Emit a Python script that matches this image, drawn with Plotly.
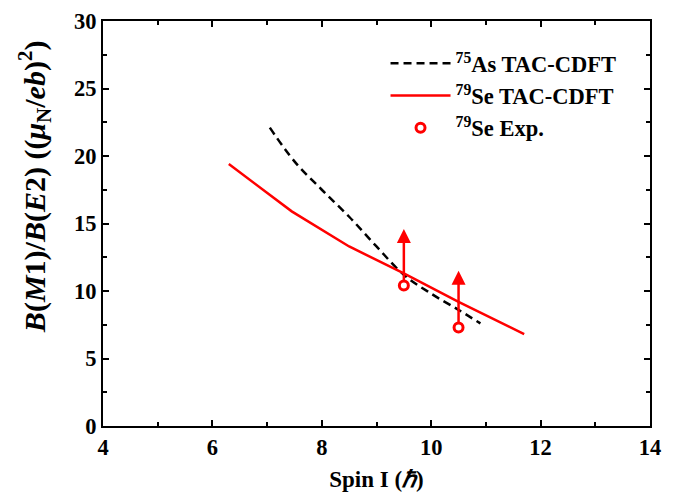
import plotly.graph_objects as go

# Data
as_spin = [7.05, 7.5, 8.0, 8.5, 9.0, 9.5, 10.0, 10.5, 10.9]
as_ratio = [22.1, 19.6, 17.5, 15.5, 13.3, 11.2, 9.8, 8.6, 7.6]

se_spin = [6.3, 7.45, 8.5, 9.5, 10.5, 11.7]
se_ratio = [19.4, 15.9, 13.3, 11.3, 9.2, 6.8]

exp_spin = [9.5, 10.5]
exp_ratio = [10.4, 7.3]
exp_arrow_tip = [14.6, 11.5]

x_ticks = [4, 6, 8, 10, 12, 14]
y_ticks = [0, 5, 10, 15, 20, 25, 30]

RED = "#ff0000"
FONT = "Liberation Serif"

fig = go.Figure()

fig.add_trace(go.Scatter(
    x=as_spin, y=as_ratio, mode="lines",
    line=dict(color="black", width=2.5, dash="8px,5px"),
    name="<sup>75</sup>As TAC-CDFT", line_shape="spline"))

fig.add_trace(go.Scatter(
    x=se_spin, y=se_ratio, mode="lines",
    line=dict(color=RED, width=2.5),
    name="<sup>79</sup>Se TAC-CDFT"))

# arrows (lower limits)
for xs, y0, y1 in zip(exp_spin, exp_ratio, exp_arrow_tip):
    fig.add_trace(go.Scatter(
        x=[xs, xs], y=[y0, y1 - 0.8], mode="lines",
        line=dict(color=RED, width=2.5), showlegend=False, hoverinfo="skip"))
    fig.add_trace(go.Scatter(
        x=[xs], y=[y1], mode="markers",
        marker=dict(symbol="arrow-up", size=14, color=RED, line=dict(width=0)),
        showlegend=False, hoverinfo="skip"))

fig.add_trace(go.Scatter(
    x=exp_spin, y=exp_ratio, mode="markers",
    marker=dict(symbol="circle", size=9, color="white", line=dict(color=RED, width=3)),
    name="<sup>79</sup>Se Exp."))

axis_common = dict(
    showline=True, linecolor="black", linewidth=2, mirror="ticks",
    ticks="inside", ticklen=6, tickwidth=2, tickcolor="black",
    showgrid=False, zeroline=False, automargin=False,
    tickfont=dict(family=FONT, size=22.5, color="black", weight="bold"),
)

fig.update_xaxes(
    range=[4, 14], tickvals=x_ticks,
    minor=dict(ticks="inside", ticklen=4, tickwidth=2, dtick=1, tickcolor="black"),
    title=dict(text="Spin I (<i>ℏ</i>)", font=dict(family=FONT, size=23, color="black", weight="bold"), standoff=12),
    **axis_common)
fig.update_yaxes(
    range=[0, 30], tickvals=y_ticks,
    minor=dict(ticks="inside", ticklen=4, tickwidth=2, dtick=2.5, tickcolor="black"),
    **axis_common)

fig.add_annotation(
    text="<i>B</i>(<i>M</i>1)/<i>B</i>(<i>E</i>2) ((<i>μ</i><sub>N</sub>/<i>eb</i>)<sup>2</sup>)",
    xref="paper", yref="paper", x=-0.126, y=0.59, xanchor="center", yanchor="middle",
    textangle=-90, showarrow=False,
    font=dict(family=FONT, size=30, color="black", weight="bold"))

fig.update_layout(
    width=684, height=487,
    margin=dict(l=95, r=42, t=13, b=69),
    plot_bgcolor="white", paper_bgcolor="white",
    showlegend=True,
    legend=dict(x=0.5165, y=0.948, xanchor="left", yanchor="top",
                bgcolor="rgba(0,0,0,0)", borderwidth=0,
                font=dict(family=FONT, size=22.5, color="black", weight="bold"),
                tracegroupgap=0, itemwidth=60),
)

fig.write_html("out.html")
